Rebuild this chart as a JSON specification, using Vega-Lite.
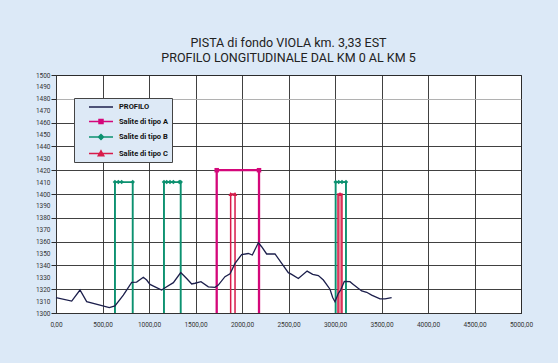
{
  "$schema": "https://vega.github.io/schema/vega-lite/v6.json",
  "width": 465,
  "height": 238,
  "autosize": {"type": "none"},
  "padding": {"left": 56, "top": 75, "right": 37, "bottom": 50},
  "background": "#dce9f7",
  "title": {
    "text": ["PISTA di fondo VIOLA km. 3,33 EST", "PROFILO LONGITUDINALE DAL KM 0 AL KM 5"],
    "font": "Roboto",
    "fontSize": 12.5,
    "fontWeight": "normal",
    "color": "#222222",
    "lineHeight": 15,
    "offset": 8,
    "anchor": "middle"
  },
  "datasets": {
    "profilo": [
      {"serie": "PROFILO", "x": 0, "y": 1313},
      {"serie": "PROFILO", "x": 169, "y": 1310},
      {"serie": "PROFILO", "x": 258, "y": 1319.3},
      {"serie": "PROFILO", "x": 330, "y": 1309.5},
      {"serie": "PROFILO", "x": 473, "y": 1306.7},
      {"serie": "PROFILO", "x": 573, "y": 1304.5},
      {"serie": "PROFILO", "x": 634, "y": 1306},
      {"serie": "PROFILO", "x": 724, "y": 1315},
      {"serie": "PROFILO", "x": 814, "y": 1325.8},
      {"serie": "PROFILO", "x": 867, "y": 1326},
      {"serie": "PROFILO", "x": 939, "y": 1330},
      {"serie": "PROFILO", "x": 975, "y": 1327.7},
      {"serie": "PROFILO", "x": 1011, "y": 1324},
      {"serie": "PROFILO", "x": 1065, "y": 1322},
      {"serie": "PROFILO", "x": 1136, "y": 1319.3},
      {"serie": "PROFILO", "x": 1190, "y": 1322},
      {"serie": "PROFILO", "x": 1262, "y": 1325.5},
      {"serie": "PROFILO", "x": 1341, "y": 1334},
      {"serie": "PROFILO", "x": 1405, "y": 1329},
      {"serie": "PROFILO", "x": 1459, "y": 1324.4},
      {"serie": "PROFILO", "x": 1495, "y": 1325},
      {"serie": "PROFILO", "x": 1559, "y": 1326.3},
      {"serie": "PROFILO", "x": 1638, "y": 1322},
      {"serie": "PROFILO", "x": 1710, "y": 1321.6},
      {"serie": "PROFILO", "x": 1745, "y": 1323.5},
      {"serie": "PROFILO", "x": 1817, "y": 1330.5},
      {"serie": "PROFILO", "x": 1871, "y": 1333},
      {"serie": "PROFILO", "x": 1925, "y": 1341.7},
      {"serie": "PROFILO", "x": 1996, "y": 1349},
      {"serie": "PROFILO", "x": 2068, "y": 1350},
      {"serie": "PROFILO", "x": 2111, "y": 1348.7},
      {"serie": "PROFILO", "x": 2176, "y": 1359},
      {"serie": "PROFILO", "x": 2211, "y": 1355.7},
      {"serie": "PROFILO", "x": 2265, "y": 1349.6},
      {"serie": "PROFILO", "x": 2355, "y": 1349.6},
      {"serie": "PROFILO", "x": 2427, "y": 1341.7},
      {"serie": "PROFILO", "x": 2498, "y": 1333.9},
      {"serie": "PROFILO", "x": 2534, "y": 1332.5},
      {"serie": "PROFILO", "x": 2606, "y": 1329},
      {"serie": "PROFILO", "x": 2700, "y": 1335.2},
      {"serie": "PROFILO", "x": 2760, "y": 1332.5},
      {"serie": "PROFILO", "x": 2821, "y": 1331.4},
      {"serie": "PROFILO", "x": 2875, "y": 1327.7},
      {"serie": "PROFILO", "x": 2946, "y": 1320},
      {"serie": "PROFILO", "x": 2975, "y": 1313},
      {"serie": "PROFILO", "x": 3000, "y": 1309.5},
      {"serie": "PROFILO", "x": 3036, "y": 1316.5},
      {"serie": "PROFILO", "x": 3061, "y": 1319.3},
      {"serie": "PROFILO", "x": 3100, "y": 1326.5},
      {"serie": "PROFILO", "x": 3161, "y": 1326.3},
      {"serie": "PROFILO", "x": 3197, "y": 1324},
      {"serie": "PROFILO", "x": 3287, "y": 1318.5},
      {"serie": "PROFILO", "x": 3341, "y": 1317.4},
      {"serie": "PROFILO", "x": 3394, "y": 1315},
      {"serie": "PROFILO", "x": 3484, "y": 1311.8},
      {"serie": "PROFILO", "x": 3538, "y": 1311.8},
      {"serie": "PROFILO", "x": 3609, "y": 1312.9}
    ],
    "salite": [
      {"serie": "Salite di tipo A", "id": "A1", "o": 0, "x": 1728, "y": 1300},
      {"serie": "Salite di tipo A", "id": "A1", "o": 1, "x": 1728, "y": 1420},
      {"serie": "Salite di tipo A", "id": "A1", "o": 2, "x": 2183, "y": 1420},
      {"serie": "Salite di tipo A", "id": "A1", "o": 3, "x": 2183, "y": 1300},
      {"serie": "Salite di tipo B", "id": "B1", "o": 0, "x": 634, "y": 1300},
      {"serie": "Salite di tipo B", "id": "B1", "o": 1, "x": 634, "y": 1410},
      {"serie": "Salite di tipo B", "id": "B1", "o": 2, "x": 825, "y": 1410},
      {"serie": "Salite di tipo B", "id": "B1", "o": 3, "x": 825, "y": 1300},
      {"serie": "Salite di tipo B", "id": "B2", "o": 0, "x": 1161, "y": 1300},
      {"serie": "Salite di tipo B", "id": "B2", "o": 1, "x": 1161, "y": 1410},
      {"serie": "Salite di tipo B", "id": "B2", "o": 2, "x": 1341, "y": 1410},
      {"serie": "Salite di tipo B", "id": "B2", "o": 3, "x": 1341, "y": 1300},
      {"serie": "Salite di tipo B", "id": "B3", "o": 0, "x": 3007, "y": 1300},
      {"serie": "Salite di tipo B", "id": "B3", "o": 1, "x": 3007, "y": 1410},
      {"serie": "Salite di tipo B", "id": "B3", "o": 2, "x": 3118, "y": 1410},
      {"serie": "Salite di tipo B", "id": "B3", "o": 3, "x": 3118, "y": 1300},
      {"serie": "Salite di tipo C", "id": "C1", "o": 0, "x": 1878, "y": 1300},
      {"serie": "Salite di tipo C", "id": "C1", "o": 1, "x": 1878, "y": 1400},
      {"serie": "Salite di tipo C", "id": "C1", "o": 2, "x": 1925, "y": 1400},
      {"serie": "Salite di tipo C", "id": "C1", "o": 3, "x": 1925, "y": 1300},
      {"serie": "Salite di tipo C", "id": "C2", "o": 0, "x": 3032, "y": 1300},
      {"serie": "Salite di tipo C", "id": "C2", "o": 1, "x": 3032, "y": 1400},
      {"serie": "Salite di tipo C", "id": "C2", "o": 2, "x": 3075, "y": 1400},
      {"serie": "Salite di tipo C", "id": "C2", "o": 3, "x": 3075, "y": 1300}
    ],
    "banda": [
      {"x": 3032, "xe": 3075, "y": 1300, "ye": 1400}
    ],
    "marker": [
      {"serie": "Salite di tipo A", "x": 1728, "y": 1420},
      {"serie": "Salite di tipo A", "x": 2183, "y": 1420},
      {"serie": "Salite di tipo B", "x": 634, "y": 1410},
      {"serie": "Salite di tipo B", "x": 670, "y": 1410},
      {"serie": "Salite di tipo B", "x": 706, "y": 1410},
      {"serie": "Salite di tipo B", "x": 825, "y": 1410},
      {"serie": "Salite di tipo B", "x": 1161, "y": 1410},
      {"serie": "Salite di tipo B", "x": 1190, "y": 1410},
      {"serie": "Salite di tipo B", "x": 1226, "y": 1410},
      {"serie": "Salite di tipo B", "x": 1262, "y": 1410},
      {"serie": "Salite di tipo B", "x": 1326, "y": 1410},
      {"serie": "Salite di tipo B", "x": 1341, "y": 1410},
      {"serie": "Salite di tipo B", "x": 3007, "y": 1410},
      {"serie": "Salite di tipo B", "x": 3040, "y": 1410},
      {"serie": "Salite di tipo B", "x": 3075, "y": 1410},
      {"serie": "Salite di tipo B", "x": 3118, "y": 1410},
      {"serie": "Salite di tipo C", "x": 1878, "y": 1400},
      {"serie": "Salite di tipo C", "x": 1925, "y": 1400},
      {"serie": "Salite di tipo C", "x": 3054, "y": 1400}
    ]
  },
  "encoding": {
    "x": {
      "field": "x", "type": "quantitative",
      "scale": {"domain": [0, 5000], "nice": false, "zero": false},
      "axis": {
        "title": null,
        "values": [0, 500, 1000, 1500, 2000, 2500, 3000, 3500, 4000, 4500, 5000],
        "grid": true,
        "gridColor": "#2b2b2b",
        "gridWidth": 0.9,
        "ticks": false,
        "domainColor": "#333333",
        "labelPadding": 8,
        "labelFont": "Roboto",
        "labelFontSize": 6.5,
        "labelColor": "#333333",
        "labelFlush": false,
        "labelOverlap": false,
        "labelExpr": "replace(format(datum.value, '.2f'), '.', ',')"
      }
    },
    "y": {
      "field": "y", "type": "quantitative",
      "scale": {"domain": [1300, 1500], "nice": false, "zero": false},
      "axis": {
        "title": null,
        "values": [1300, 1310, 1320, 1330, 1340, 1350, 1360, 1370, 1380, 1390, 1400, 1410, 1420, 1430, 1440, 1450, 1460, 1470, 1480, 1490, 1500],
        "format": "d",
        "grid": true,
        "gridOpacity": {"condition": {"test": "datum.value % 20 === 0", "value": 1}, "value": 0},
        "gridColor": {"condition": {"test": "datum.value === 1480", "value": "#a8a8a8"}, "value": "#2b2b2b"},
        "gridWidth": 0.9,
        "ticks": true,
        "tickSize": 5,
        "tickColor": "#2b2b2b",
        "tickOpacity": {"condition": {"test": "datum.value % 20 === 0", "value": 1}, "value": 0},
        "domainColor": "#333333",
        "labelPadding": 1,
        "labelFont": "Roboto",
        "labelFontSize": 6.5,
        "labelColor": "#333333",
        "labelFlush": false,
        "labelOverlap": false,
        "labelBound": false
      }
    }
  },
  "layer": [
    {
      "data": {"name": "banda"},
      "mark": {"type": "rect", "color": "#e58796"},
      "encoding": {
        "x2": {"field": "xe"},
        "y2": {"field": "ye"}
      }
    },
    {
      "data": {"name": "salite"},
      "mark": {"type": "line"},
      "encoding": {
        "detail": {"field": "id"},
        "order": {"field": "o"},
        "color": {"field": "serie", "type": "nominal"},
        "strokeWidth": {
          "field": "serie", "type": "nominal",
          "scale": {"domain": ["Salite di tipo A", "Salite di tipo B", "Salite di tipo C"], "range": [2.3, 1.5, 1.1]},
          "legend": null
        }
      }
    },
    {
      "data": {"name": "marker"},
      "mark": {"type": "point", "filled": true, "opacity": 1},
      "encoding": {
        "color": {"field": "serie", "type": "nominal"},
        "shape": {
          "field": "serie", "type": "nominal",
          "scale": {"domain": ["Salite di tipo A", "Salite di tipo B", "Salite di tipo C"], "range": ["square", "diamond", "triangle-up"]},
          "legend": null
        },
        "size": {"value": 20}
      }
    },
    {
      "data": {"name": "profilo"},
      "mark": {"type": "line", "strokeWidth": 1.3},
      "encoding": {
        "color": {
          "field": "serie", "type": "nominal",
          "scale": {
            "domain": ["PROFILO", "Salite di tipo A", "Salite di tipo B", "Salite di tipo C"],
            "range": ["#1c1f4c", "#d4077a", "#0c9170", "#d81b4a"]
          },
          "legend": {
            "title": null,
            "orient": "none",
            "legendX": 18,
            "legendY": 23,
            "padding": 3,
            "rowPadding": 4.5,
            "fillColor": "#dde9f6",
            "strokeColor": "#444444",
            "symbolSize": 100,
            "symbolStrokeWidth": 1.5,
            "labelOffset": 30,
            "labelFont": "Roboto",
            "labelFontSize": 7.5,
            "labelFontWeight": "bold",
            "labelColor": "#111111",
            "encode": {
              "symbols": {
                "update": {
                  "shape": {"signal": "datum.value === 'PROFILO' ? 'M1.2,0H6' : datum.value === 'Salite di tipo A' ? 'M1.2,0H6M3.2,-0.4H4V0.4H3.2Z' : datum.value === 'Salite di tipo B' ? 'M1.2,0H6M3.6,-0.5L4.1,0L3.6,0.5L3.1,0Z' : 'M1.2,0H6M3.6,-0.55L4.15,0.45H3.05Z'"},
                  "fill": {"scale": "color", "field": "value"},
                  "stroke": {"scale": "color", "field": "value"},
                  "strokeWidth": {"value": 1.5}
                }
              }
            }
          }
        }
      }
    }
  ],
  "config": {
    "view": {"fill": "white", "stroke": "#333333", "strokeWidth": 1},
    "font": "Roboto"
  }
}
